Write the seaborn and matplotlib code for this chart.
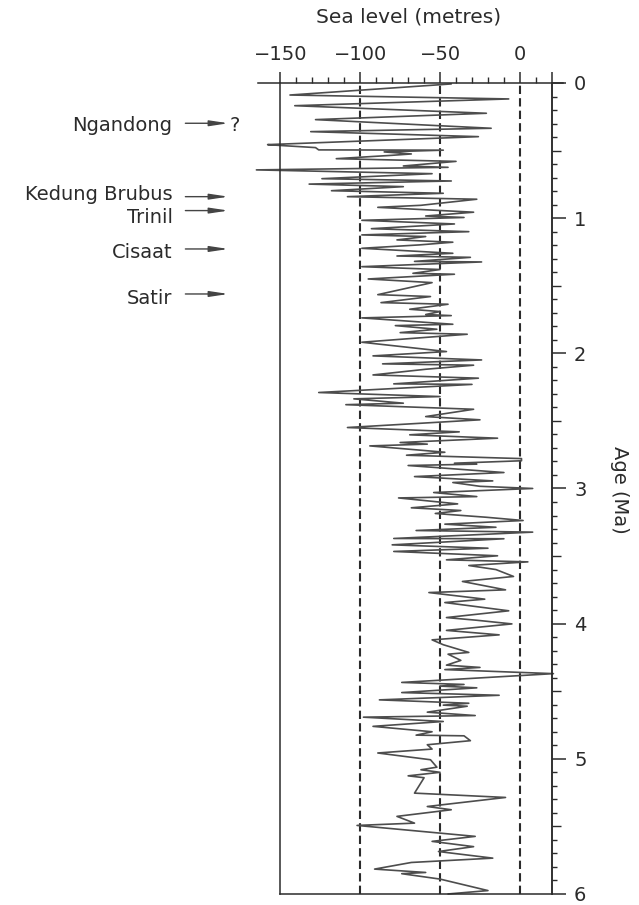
import numpy as np
import pandas as pd
import matplotlib.pyplot as plt
from matplotlib.ticker import FixedLocator
import seaborn as sns

# age (Ma) and sea level (m)
age = [0.007, 0.089, 0.118, 0.168, 0.224, 0.271, 0.335, 0.360, 0.397, 0.456,
       0.463, 0.478, 0.495, 0.497, 0.510, 0.525, 0.535, 0.560, 0.580, 0.614,
       0.624, 0.643, 0.671, 0.708, 0.725, 0.748, 0.767, 0.797, 0.816, 0.841,
       0.860, 0.905, 0.920, 0.956, 0.984, 0.995, 1.016, 1.043, 1.078, 1.100,
       1.124, 1.136, 1.161, 1.178, 1.198, 1.223, 1.260, 1.280, 1.290, 1.320,
       1.324, 1.359, 1.380, 1.408, 1.415, 1.450, 1.477, 1.566, 1.580, 1.625,
       1.637, 1.674, 1.691, 1.713, 1.721, 1.738, 1.785, 1.795, 1.822, 1.847,
       1.859, 1.918, 1.987, 2.019, 2.049, 2.078, 2.088, 2.118, 2.160, 2.184,
       2.226, 2.230, 2.290, 2.320, 2.337, 2.369, 2.380, 2.414, 2.468, 2.492,
       2.549, 2.581, 2.603, 2.628, 2.660, 2.672, 2.685, 2.732, 2.754, 2.779,
       2.795, 2.813, 2.820, 2.830, 2.882, 2.912, 2.944, 2.956, 2.984, 3.000,
       3.030, 3.060, 3.070, 3.114, 3.143, 3.163, 3.185, 3.213, 3.237, 3.264,
       3.287, 3.311, 3.323, 3.370, 3.372, 3.417, 3.442, 3.466, 3.498, 3.528,
       3.543, 3.570, 3.600, 3.651, 3.688, 3.750, 3.770, 3.819, 3.844, 3.905,
       3.955, 3.975, 4.002, 4.050, 4.083, 4.120, 4.156, 4.213, 4.226, 4.272,
       4.307, 4.324, 4.340, 4.370, 4.435, 4.450, 4.462, 4.475, 4.510, 4.530,
       4.564, 4.589, 4.603, 4.611, 4.655, 4.680, 4.692, 4.724, 4.760, 4.800,
       4.825, 4.830, 4.866, 4.896, 4.928, 4.957, 5.007, 5.062, 5.081, 5.100,
       5.126, 5.140, 5.254, 5.286, 5.353, 5.377, 5.426, 5.476, 5.493, 5.574,
       5.611, 5.650, 5.686, 5.735, 5.767, 5.816, 5.841, 5.850, 5.890, 5.975,
       6.000]
sea_level = [-43, -144, -7, -141, -21, -128, -18, -131, -26, -158,
             -149, -128, -126, -48, -85, -68, -80, -115, -40, -73,
             -45, -165, -55, -124, -43, -132, -73, -118, -48, -108,
             -27, -62, -89, -29, -59, -35, -99, -41, -93, -32,
             -99, -59, -77, -42, -63, -99, -42, -77, -31, -66,
             -24, -99, -50, -67, -41, -95, -55, -89, -56, -87,
             -45, -69, -50, -59, -43, -99, -42, -78, -52, -75,
             -33, -99, -46, -92, -24, -86, -29, -59, -92, -26,
             -79, -30, -126, -50, -104, -73, -109, -29, -59, -25,
             -108, -38, -69, -14, -75, -58, -94, -47, -71, 1,
             1, -41, -27, -70, -10, -66, -17, -42, -25, 8,
             -54, -27, -76, -39, -68, -37, -53, -21, 2, -47,
             -15, -65, 8, -79, -10, -80, -20, -79, -14, -46,
             5, -32, -15, -4, -36, -9, -57, -22, -47, -7,
             -46, -27, -5, -46, -13, -55, -48, -32, -45, -37,
             -46, -25, -47, 21, -74, -35, -50, -27, -74, -13,
             -88, -32, -48, -33, -58, -28, -98, -48, -92, -55,
             -65, -35, -31, -58, -55, -89, -56, -52, -62, -50,
             -70, -60, -66, -9, -58, -43, -77, -66, -102, -28,
             -55, -29, -51, -17, -68, -91, -59, -74, -50, -20,
             -45]

level_ticks = [-150, -100, -50, 0, 20]
level_labels = ['\u2212150', '\u2212100', '\u221250', '0', '']
ref_levels = [-100, -50, 0]

sites = ['Ngandong', 'Kedung Brubus', 'Trinil', 'Cisaat', 'Satir']
site_arrow_age = [0.298, 0.841, 0.944, 1.228, 1.561]
site_text_age = [0.353, 0.865, 1.033, 1.292, 1.636]

sns.set_theme(style='white')
plt.rcParams['font.family'] = ['DejaVu Sans']
ink = '#2b2b2b'

df = pd.DataFrame({'age': age, 'sea_level': sea_level})

fig = plt.figure(figsize=(6.39, 9.05), dpi=100)
ax = fig.add_axes([0.4038, 0.0122, 0.4773, 0.8961])
ax2 = ax.twinx()  # only used for the half-Ma ticks

sns.lineplot(data=df, x='sea_level', y='age', orient='y', sort=False,
             estimator=None, color='#4d4d4d', lw=1.2, ax=ax, clip_on=False)

for lv in ref_levels:
    ax.axvline(lv, color=ink, lw=1.5, ls=(0, (4, 2)), zorder=1)

ax.set_xlim(-164, 27)
ax.set_ylim(6, 0)
ax2.set_ylim(6, 0)

# spines: top full width, left at -150, right at +20, bottom between them
for s in ['top', 'left', 'right', 'bottom']:
    ax.spines[s].set_visible(True)
    ax.spines[s].set_color(ink)
    ax.spines[s].set_linewidth(1.1)
    ax2.spines[s].set_visible(False)
ax.spines['left'].set_position(('data', -150))
ax.spines['right'].set_position(('data', 20))
ax.spines['bottom'].set_bounds(-150, 20)
ax2.spines['right'].set_visible(True)
ax2.spines['right'].set_position(('data', 20))
ax2.spines['right'].set_color(ink)
ax2.spines['right'].set_linewidth(1.1)

ax.xaxis.set_ticks_position('top')
ax.xaxis.set_major_locator(FixedLocator(level_ticks))
ax.set_xticklabels(level_labels)
ax.xaxis.set_minor_locator(FixedLocator(list(range(-140, 20, 10))))
ax.tick_params(axis='x', which='major', direction='out', length=8, width=1.1,
               color=ink, labelsize=14, labelcolor=ink, pad=6)
ax.tick_params(axis='x', which='minor', direction='out', length=4, width=1,
               color=ink)

ax.yaxis.tick_right()
ax.yaxis.set_major_locator(FixedLocator(range(0, 7)))
ax.yaxis.set_minor_locator(FixedLocator([i / 10 for i in range(1, 60) if i % 10 and i % 5]))
ax.tick_params(axis='y', which='both', left=False, labelleft=False,
               right=True, labelright=True)
ax.tick_params(axis='y', which='major', direction='out', length=10, width=1.1,
               color=ink, labelsize=14, labelcolor=ink, pad=6)
ax.tick_params(axis='y', which='minor', direction='out', length=3.5, width=1,
               color=ink)

ax2.yaxis.set_major_locator(FixedLocator([i + 0.5 for i in range(6)]))
ax2.tick_params(axis='y', which='major', direction='out', length=6.5, width=1,
                color=ink, labelright=False)
ax2.grid(False)

ax.set_xlabel('')
ax.set_ylabel('')
ax.grid(False)

fig.text(0.639, 1 - 17 / 905, 'Sea level (metres)', ha='center', va='center',
         fontsize=14.5, color=ink)
fig.text(0.97, 1 - 490 / 905, 'Age (Ma)', ha='center', va='center',
         rotation=270, fontsize=14, color=ink)

for name, a_arrow, a_text in zip(sites, site_arrow_age, site_text_age):
    ax.text(-217.5, a_text, name, ha='right', va='baseline', fontsize=14,
            color=ink, clip_on=False)
    ax.annotate('', xy=(-182.5, a_arrow), xytext=(-209.5, a_arrow),
                arrowprops=dict(arrowstyle='-|>,head_length=0.8,head_width=0.12',
                                color='#444444', lw=1, shrinkA=0, shrinkB=0,
                                mutation_scale=14),
                annotation_clip=False)
ax.text(-182, site_text_age[0], '?', ha='left', va='baseline', fontsize=14,
        color=ink, clip_on=False)

fig.savefig('out.png', dpi=100)
